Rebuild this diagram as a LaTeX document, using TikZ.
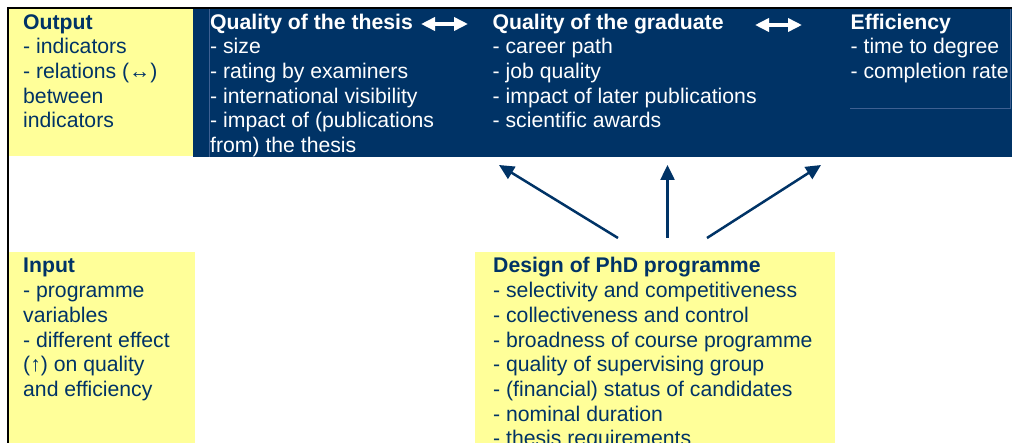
\documentclass[tikz,border=0pt]{standalone}
\usepackage{fontspec}
\setmainfont{Liberation Sans}
\usetikzlibrary{arrows.meta}
\definecolor{BandCol}{RGB}{0,51,102}
\definecolor{NoteCol}{RGB}{255,255,153}
\definecolor{EdgeCol}{RGB}{62,96,146}
\tikzstyle{txt} = [anchor=north west, inner sep=0pt, align=left, font=\fontsize{21.2}{24.7}\selectfont]
\tikzstyle{dark} = [txt, text=BandCol]
\tikzstyle{light} = [txt, text=white]
\tikzstyle{up} = [-{Triangle[length=15pt,width=14pt]}, line width=2.5pt, draw=BandCol]
\tikzstyle{both} = [{Triangle[length=14pt,width=13pt]}-{Triangle[length=14pt,width=13pt]}, line width=3.5pt, draw=white]
\newcommand{\fl}{\rule{0pt}{17pt}}

\begin{document}
\begin{tikzpicture}[x=1pt,y=-1pt]
                \useasboundingbox (0,0) rectangle (1012,443);
                \clip (0,0) rectangle (1012,443);
                \fill[NoteCol] (9,9) rectangle (193,156);
                \fill[BandCol] (193,9) rectangle (1012,157);
                \fill[NoteCol] (9,252) rectangle (195,443);
                \fill[NoteCol] (475,252) rectangle (835,443);
                \draw[EdgeCol, line width=0.6pt] (209.5,9) -- (209.5,157);
                \draw[EdgeCol, line width=0.6pt] (850,108.5) -- (1010,108.5) -- (1010,9);
                \draw[black, line width=2pt] (8,443) -- (8,8) -- (1012,8);
                \node[dark] (output) at (23,12){\fl\textbf{Output}\\- indicators\\- relations (↔)\\between\\indicators};
                \node[light] (thesis) at (210,12){\fl\textbf{Quality of the thesis}\\- size\\- rating by examiners\\- international visibility\\- impact of (publications\\from) the thesis};
                \node[light] (graduate) at (492.5,12){\fl\textbf{Quality of the graduate}\\- career path\\- job quality\\- impact of later publications\\- scientific awards};
                \node[light] (efficiency) at (850.5,12){\fl\textbf{Efficiency}\\- time to degree\\- completion rate};
                \node[dark] (input) at (23,255.7){\fl\textbf{Input}\\- programme\\variables\\- different effect\\(↑) on quality\\and efficiency};
                \node[dark] (design) at (493,255.7){\fl\textbf{Design of PhD programme}\\- selectivity and competitiveness\\- collectiveness and control\\- broadness of course programme\\- quality of supervising group\\- (financial) status of candidates\\- nominal duration\\- thesis requirements};
                \coordinate (tq1) at (421,24);
                \coordinate (tq2) at (468,24);
                \coordinate (gq1) at (755,25);
                \coordinate (gq2) at (802,25);
                \draw[both] (tq1) -- (tq2);
                \draw[both] (gq1) -- (gq2);
                \coordinate (dl) at (618,238);
                \coordinate (dm) at (667.5,238);
                \coordinate (dr) at (707,238);
                \coordinate (tl) at (499,165);
                \coordinate (tm) at (667.5,165);
                \coordinate (tr) at (821,165);
                \draw[up] (dl) -- (tl);
                \draw[up] (dm) -- (tm);
                \draw[up] (dr) -- (tr);
             \end{tikzpicture}
\end{document}
